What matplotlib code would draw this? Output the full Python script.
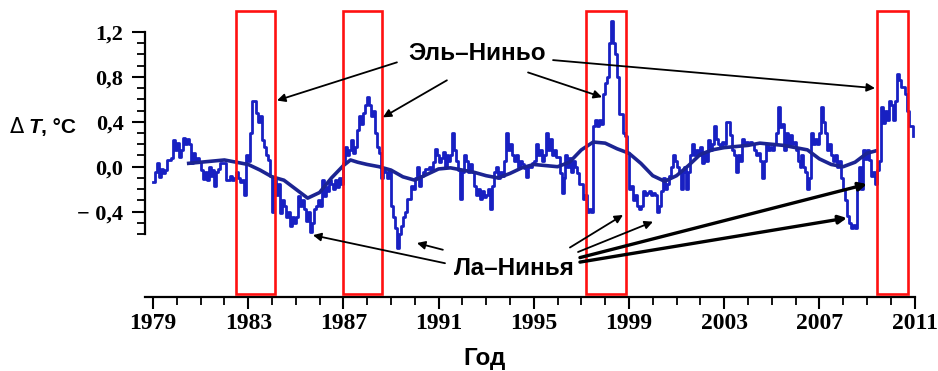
import matplotlib
matplotlib.use("Agg")
import matplotlib.pyplot as plt
import numpy as np
from matplotlib.patches import Rectangle
from matplotlib.ticker import MultipleLocator, FixedLocator, FixedFormatter

# monthly temperature anomaly, deg C, Jan..Dec per row
anom_1979_1988 = [
    -0.14, -0.05, 0.03, -0.09, -0.02, -0.06, -0.03, 0.06, 0.06, 0.08, 0.24, 0.15,
    0.21, 0.09, 0.15, 0.26, 0.20, 0.25, 0.20, 0.03, 0.12, 0.04, 0.08, 0.04,
    -0.03, -0.11, -0.05, -0.12, 0.00, -0.08, -0.03, -0.17, -0.05, -0.02, 0.03, 0.03,
    0.03, -0.12, -0.12, -0.08, -0.12, -0.10, -0.05, -0.10, -0.14, -0.12, -0.25, 0.10,
    0.05, 0.30, 0.59, 0.59, 0.48, 0.40, 0.45, 0.24, 0.18, 0.10, 0.06, -0.08,
    -0.40, -0.12, -0.25, -0.15, -0.41, -0.30, -0.35, -0.45, -0.40, -0.53, -0.45, -0.50,
    -0.45, -0.26, -0.35, -0.30, -0.38, -0.48, -0.40, -0.58, -0.50, -0.38, -0.35, -0.30,
    -0.35, -0.12, -0.26, -0.18, -0.22, -0.12, -0.15, -0.20, -0.12, -0.18, -0.10, -0.15,
    0.03, 0.18, 0.10, 0.15, 0.24, 0.12, 0.18, 0.33, 0.45, 0.38, 0.48, 0.55,
    0.62, 0.55, 0.45, 0.50, 0.30, 0.18, 0.12, -0.10, -0.03, -0.05, -0.10, -0.03,
]
anom_1989_1998 = [
    -0.35, -0.45, -0.55, -0.72, -0.60, -0.53, -0.45, -0.40, -0.29, -0.29, -0.17, -0.20,
    -0.10, 0.00, -0.17, -0.08, -0.05, -0.02, -0.02, 0.00, -0.03, 0.04, 0.16, 0.10,
    0.04, 0.08, 0.13, 0.00, 0.10, 0.05, 0.10, 0.30, 0.15, 0.05, -0.03, -0.29,
    -0.05, 0.10, 0.05, -0.05, 0.02, -0.05, -0.17, -0.25, -0.20, -0.29, -0.22, -0.27,
    -0.25, -0.20, -0.38, -0.17, -0.05, 0.00, -0.10, -0.05, -0.08, 0.05, 0.30, 0.15,
    0.20, 0.10, 0.05, 0.10, 0.00, 0.05, 0.02, -0.01, -0.09, 0.00, 0.00, 0.03,
    0.05, 0.20, 0.10, 0.15, 0.05, 0.10, 0.30, 0.15, 0.25, 0.10, 0.15, 0.09,
    0.09, -0.06, -0.23, -0.10, 0.10, 0.00, 0.08, -0.05, 0.05, 0.00, -0.06, -0.15,
    -0.15, -0.29, -0.25, -0.40, -0.38, -0.40, 0.36, 0.42, 0.36, 0.42, 0.38, 0.65,
    0.75, 0.80, 1.10, 1.30, 1.10, 1.00, 0.80, 0.47, 0.47, 0.30, 0.27, 0.12,
]
anom_1999_2010 = [
    -0.20, -0.17, -0.30, -0.25, -0.35, -0.38, -0.35, -0.22, -0.25, -0.23, -0.22, -0.25,
    -0.23, -0.25, -0.40, -0.35, -0.22, -0.10, -0.20, -0.15, -0.08, 0.00, 0.10, 0.05,
    0.00, -0.05, -0.20, -0.05, 0.00, -0.20, -0.05, 0.10, 0.20, 0.10, 0.15, 0.10,
    0.18, 0.03, 0.12, 0.05, 0.24, 0.15, 0.20, 0.36, 0.25, 0.20, 0.18, 0.22,
    0.20, 0.40, 0.40, 0.28, 0.15, 0.10, -0.05, 0.10, 0.05, 0.25, 0.20, 0.22,
    0.20, 0.22, 0.20, 0.15, 0.10, 0.12, 0.05, -0.10, 0.05, 0.20, 0.15, 0.18,
    0.15, 0.20, 0.30, 0.53, 0.35, 0.38, 0.15, 0.30, 0.20, 0.28, 0.20, 0.22,
    0.15, 0.05, 0.00, 0.10, 0.00, -0.05, -0.20, -0.10, 0.30, 0.20, 0.25, 0.20,
    0.30, 0.53, 0.40, 0.30, 0.15, 0.20, 0.10, 0.05, 0.10, 0.00, 0.05, -0.10,
    -0.20, -0.30, -0.44, -0.50, -0.55, -0.52, -0.55, -0.20, 0.00, -0.20, 0.15, 0.07,
    0.15, 0.06, -0.08, -0.05, -0.15, -0.03, 0.05, 0.53, 0.39, 0.50, 0.42, 0.59,
    0.55, 0.42, 0.59, 0.83, 0.77, 0.71, 0.71, 0.65, 0.50, 0.36, 0.36, 0.27,
]

# running mean
smooth_years = [
    1980.5, 1981.0, 1981.5, 1982.0, 1982.5, 1983.0, 1983.5, 1984.0, 1984.5, 1985.0,
    1985.5, 1986.0, 1986.5, 1987.0, 1987.3, 1987.6, 1988.0, 1988.5, 1989.0, 1989.5,
    1990.0, 1990.5, 1991.0, 1991.5, 1992.0, 1992.5, 1993.0, 1993.5, 1994.0, 1994.5,
    1995.0, 1995.5, 1996.0, 1996.5, 1997.0, 1997.5, 1998.0, 1998.5, 1999.0, 1999.5,
    2000.0, 2000.5, 2001.0, 2001.5, 2002.0, 2002.5, 2003.0, 2003.5, 2004.0, 2004.5,
    2005.0, 2005.5, 2006.0, 2006.5, 2007.0, 2007.5, 2008.0, 2008.5, 2009.0, 2009.35,
]
smooth_values = [
    0.03, 0.04, 0.05, 0.06, 0.04, 0.02, -0.03, -0.09, -0.12, -0.20,
    -0.28, -0.23, -0.10, 0.01, 0.06, 0.04, 0.02, 0.00, -0.03, -0.09,
    -0.12, -0.07, -0.02, -0.01, -0.03, -0.05, -0.08, -0.10, -0.06, -0.01,
    0.02, 0.01, 0.00, 0.04, 0.15, 0.22, 0.21, 0.16, 0.12, 0.03,
    -0.08, -0.13, -0.08, 0.01, 0.11, 0.15, 0.17, 0.18, 0.19, 0.21,
    0.20, 0.19, 0.17, 0.15, 0.07, 0.02, 0.00, 0.04, 0.12, 0.14,
]

el_nino_periods = [(1982.5, 1984.13), (1987.0, 1988.62), (1997.2, 1998.87), (2009.42, 2010.72)]

# arrows: (text end) -> (head), in years / deg C
el_nino_arrows = [
    ((1989.25, 0.93), (1984.21, 0.59)),
    ((1991.35, 0.77), (1988.66, 0.44)),
    ((1994.76, 0.84), (1997.87, 0.62)),
    ((1995.81, 0.95), (2009.34, 0.70)),
]
la_nina_arrows = [
    ((1991.27, -0.86), (1985.72, -0.61), 1.3),
    ((1991.18, -0.74), (1990.09, -0.68), 1.3),
    ((1996.52, -0.72), (1998.75, -0.43), 1.3),
    ((1996.86, -0.76), (2000.01, -0.49), 1.3),
    ((1996.94, -0.81), (2009.00, -0.155), 2.4),
    ((1996.94, -0.85), (2008.16, -0.457), 2.4),
]

anomaly = np.array(anom_1979_1988 + anom_1989_1998 + anom_1999_2010)
months = 1979 + np.arange(len(anomaly)) / 12.0

W, H = 938, 371
fig = plt.figure(figsize=(W / 100, H / 100), dpi=100)
ax = fig.add_axes([145 / W, 1 - 297 / H, (930 - 145) / W, (297 - 5) / H])
ax.set_xlim(1978.664, 2011.65)
ax.set_ylim(-1.161, 1.441)

ax.plot(months, anomaly, drawstyle="steps-post", color="#1820c2", lw=2.0, zorder=3)
ax.plot(smooth_years, smooth_values, color="#1c2492", lw=2.6, zorder=4)

for x0, x1 in el_nino_periods:
    ax.add_patch(Rectangle((x0, -1.135), x1 - x0, 1.388 + 1.135, fill=False,
                           edgecolor="#ff1111", lw=1.9, zorder=5))

label_font = dict(family="Liberation Sans", weight="bold", fontsize=17.5)
ax.text(1992.61, 1.013, "Эль–Ниньо", ha="center", va="center", zorder=6, **label_font)
ax.text(1994.17, -0.903, "Ла–Нинья", ha="center", va="center", zorder=6, **label_font)

for start, end in el_nino_arrows:
    ax.annotate("", xy=end, xytext=start,
                arrowprops=dict(arrowstyle="-|>", color="black", lw=1.3,
                                mutation_scale=12, shrinkA=0, shrinkB=0), zorder=6)
for start, end, w in la_nina_arrows:
    ax.annotate("", xy=end, xytext=start,
                arrowprops=dict(arrowstyle="-|>", color="black", lw=w,
                                mutation_scale=12, shrinkA=0, shrinkB=0), zorder=6)

# axes: detached y spine, x spine at the bottom
for s in ("top", "right"):
    ax.spines[s].set_visible(False)
ax.spines["left"].set_bounds(-0.6, 1.2)
ax.spines["bottom"].set_bounds(1978.664, 2011)
for s in ("left", "bottom"):
    ax.spines[s].set_linewidth(1.6)

ax.yaxis.set_major_locator(FixedLocator([-0.4, 0.0, 0.4, 0.8, 1.2]))
ax.yaxis.set_major_formatter(FixedFormatter(["\u2212 0,4", "0,0", "0,4", "0,8", "1,2"]))
ax.yaxis.set_minor_locator(FixedLocator(np.round(np.arange(-0.6, 1.21, 0.1), 2)))
ax.xaxis.set_major_locator(FixedLocator(list(range(1979, 2012, 4))))
ax.xaxis.set_minor_locator(MultipleLocator(1))

ax.tick_params(axis="y", which="major", direction="out", length=9.5, width=1.5, pad=6)
ax.tick_params(axis="y", which="minor", direction="out", length=6, width=1.3)
ax.tick_params(axis="x", which="major", direction="out", length=8.5, width=1.5, pad=3)
ax.tick_params(axis="x", which="minor", direction="out", length=6, width=1.3)
for lbl in ax.get_yticklabels():
    lbl.set_fontfamily("Liberation Serif")
    lbl.set_fontweight("bold")
    lbl.set_fontsize(16)
for lbl in ax.get_xticklabels():
    lbl.set_fontfamily("Liberation Serif")
    lbl.set_fontweight("bold")
    lbl.set_fontsize(17)

# y label: "ΔT, °C" with italic T
ylab_y = 1 - 127 / H
fig.text(10 / W, ylab_y, "Δ", fontsize=15, family="DejaVu Sans", va="center", ha="left")
fig.text(29 / W, ylab_y, "T", fontsize=15, family="Liberation Sans", weight="bold",
         style="italic", va="center", ha="left")
fig.text(41 / W, ylab_y, ", °C", fontsize=15, family="Liberation Sans", weight="bold",
         va="center", ha="left")
fig.text(485 / W, 1 - 358 / H, "Год", ha="center", va="center", **label_font)

fig.savefig("out.png", dpi=100)
